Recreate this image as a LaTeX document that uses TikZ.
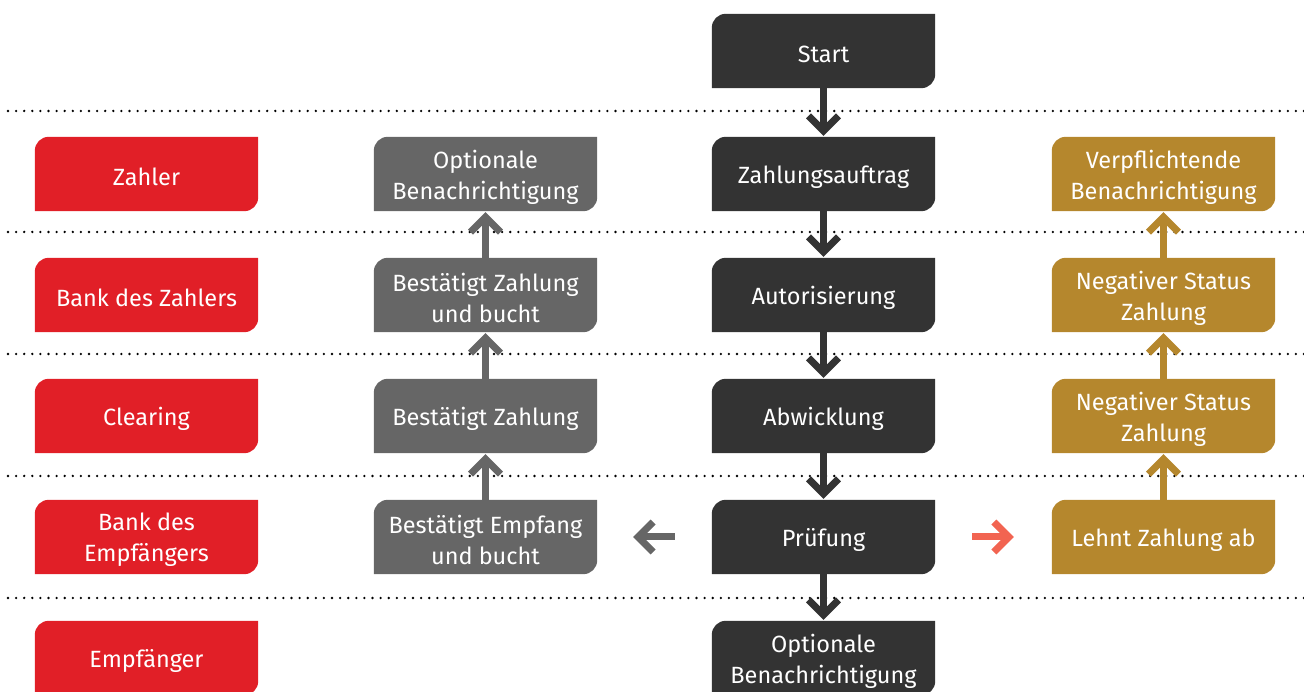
\documentclass[tikz,border=0pt]{standalone}
\usepackage{fontspec}
\setmainfont{Fira Sans}
\usetikzlibrary{arrows.meta}
\pgfdeclarelayer{background}
\pgfsetlayers{background,main}
\definecolor{cdark}{HTML}{333333}
\definecolor{cgray}{HTML}{666666}
\definecolor{cred}{HTML}{E11F27}
\definecolor{cgold}{HTML}{B5872D}
\definecolor{csalmon}{HTML}{F26451}
\tikzset{
  boxframe/.style={minimum width=223pt, minimum height=74pt, inner sep=0pt},
  boxtext/.style={inner sep=0pt, text=white, align=center, font=\fontsize{23.5}{31}\selectfont},
  flowarrow/.style={line width=7pt, -{Straight Barb[length=15pt,width=30pt]}},
  laneline/.style={line width=2.6pt, line cap=round, dash pattern=on 0pt off 8.1pt, black},
}
\newcommand\flowbox[4]{%
  \node[boxframe] (#1) at (#2) {};
  \node[boxtext] (#1-t) at ([yshift=-3pt]#1.center) {#4};
  \begin{pgfonlayer}{background}
    \fill[#3] ([xshift=14pt]#1.north west) -- (#1.north east)
      -- ([yshift=14pt]#1.south east) arc[start angle=0,end angle=-90,radius=14pt]
      -- (#1.south west) -- ([yshift=-14pt]#1.north west)
      arc[start angle=180,end angle=90,radius=14pt] -- cycle;
  \end{pgfonlayer}}
\begin{document}
\begin{tikzpicture}[x=1pt,y=1pt]
\useasboundingbox (0,0) rectangle (1304,691);
% lane separators
\foreach \yy in {580,459,337,215,93}
  \draw[laneline] (8,\yy) -- (1304,\yy);
% lanes
\flowbox{zahler}{146.5,517}{cred}{Zahler}
\flowbox{bankz}{146.5,396}{cred}{Bank des Zahlers}
\flowbox{clear}{146.5,275}{cred}{Clearing}
\flowbox{banke}{146.5,154}{cred}{Bank des\\Empfängers}
\flowbox{empf}{146.5,33}{cred}{Empfänger}
% centre column
\flowbox{start}{823.5,640}{cdark}{Start}
\flowbox{auftrag}{823.5,517}{cdark}{Zahlungsauftrag}
\flowbox{autor}{823.5,396}{cdark}{Autorisierung}
\flowbox{abw}{823.5,275}{cdark}{Abwicklung}
\flowbox{pruef}{823.5,154}{cdark}{Prüfung}
\flowbox{optc}{823.5,33}{cdark}{Optionale\\Benachrichtigung}
% grey column
\flowbox{optg}{485.5,517}{cgray}{Optionale\\Benachrichtigung}
\flowbox{bzb}{485.5,396}{cgray}{Bestätigt Zahlung\\und bucht}
\flowbox{bz}{485.5,275}{cgray}{Bestätigt Zahlung}
\flowbox{beb}{485.5,154}{cgray}{Bestätigt Empfang\\und bucht}
% gold column
\flowbox{verpf}{1163.5,517}{cgold}{Verpflichtende\\Benachrichtigung}
\flowbox{neg1}{1163.5,396}{cgold}{Negativer Status\\Zahlung}
\flowbox{neg2}{1163.5,275}{cgold}{Negativer Status\\Zahlung}
\flowbox{lehnt}{1163.5,154}{cgold}{Lehnt Zahlung ab}
% arrows centre
\foreach \a/\b in {start/auftrag,auftrag/autor,autor/abw,abw/pruef,pruef/optc}
  \draw[flowarrow,cdark,shorten >=1pt] (\a.south) -- (\b.north);
% arrows grey
\foreach \a/\b in {beb/bz,bz/bzb,bzb/optg}
  \draw[flowarrow,cgray,shorten >=1pt] (\a.north) -- (\b.south);
% arrows gold
\foreach \a/\b in {lehnt/neg2,neg2/neg1,neg1/verpf}
  \draw[flowarrow,cgold,shorten >=1pt] (\a.north) -- (\b.south);
% horizontal
\draw[flowarrow,cgray,shorten <=37pt,shorten >=36pt] (pruef.west) -- (beb.east);
\draw[flowarrow,csalmon,shorten <=37pt,shorten >=38pt] (pruef.east) -- (lehnt.west);
\end{tikzpicture}
\end{document}
